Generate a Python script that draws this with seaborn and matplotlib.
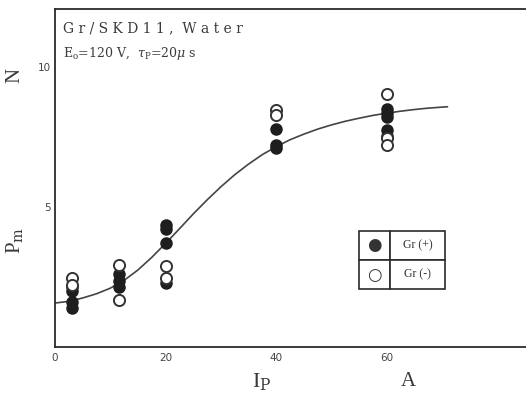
import matplotlib
matplotlib.use("Agg")
import matplotlib.pyplot as plt
import seaborn as sns
import pandas as pd

# ---- data ----
ip_pos = [3, 3, 3, 3, 11.5, 11.5, 11.5, 20, 20, 20, 20, 40, 40, 40, 60, 60, 60, 60, 60]
n_pos = [2.15, 2.0, 1.6, 1.4, 2.6, 2.35, 2.15, 4.35, 4.2, 3.7, 2.3, 7.8, 7.2, 7.1, 8.5, 8.35, 8.2, 7.75, 7.55]
ip_neg = [3, 3, 11.5, 11.5, 20, 20, 40, 40, 60, 60, 60]
n_neg = [2.45, 2.2, 2.93, 1.68, 2.9, 2.45, 8.45, 8.3, 9.05, 7.45, 7.2]
curve_x = [0, 2.5, 5, 7.5, 10, 12.5, 15, 17.5, 20, 22.5, 25, 27.5, 30, 32.5, 35, 37.5,
           40, 42.5, 45, 47.5, 50, 52.5, 55, 57.5, 60, 62.5, 65, 67.5, 71]
curve_y = [1.57, 1.63, 1.75, 1.9, 2.1, 2.38, 2.75, 3.2, 3.7, 4.22, 4.75, 5.25, 5.72, 6.15,
           6.53, 6.87, 7.15, 7.4, 7.6, 7.78, 7.93, 8.06, 8.17, 8.27, 8.35, 8.42, 8.48, 8.53, 8.58]
legend_labels = ["Gr (+)", "Gr (-)"]
title_lines = ["G r / S K D 1 1 ,  W a t e r", r"E$_\mathrm{o}$=120 V,  $\tau_\mathrm{P}$=20$\mu$ s"]

sns.set_theme(style="white")
plt.rcParams['font.family'] = ['Liberation Serif', 'DejaVu Serif']
plt.rcParams['mathtext.fontset'] = 'dejavuserif'

ink = "#2b2b2b"
fig = plt.figure(figsize=(5.26, 3.97), dpi=100)
ax = fig.add_axes([55 / 526, 50 / 397, 1 - 55 / 526, 338 / 397])

df_pos = pd.DataFrame({"Ip": ip_pos, "N": n_pos})
df_neg = pd.DataFrame({"Ip": ip_neg, "N": n_neg})
df_curve = pd.DataFrame({"Ip": curve_x, "N": curve_y})

sns.lineplot(data=df_curve, x="Ip", y="N", ax=ax, color="#444444", linewidth=1.2, zorder=2)
sns.scatterplot(data=df_pos, x="Ip", y="N", ax=ax, marker="o", s=64, color="#1e1e1e",
                edgecolor="#1e1e1e", linewidth=1.0, zorder=3)
sns.scatterplot(data=df_neg, x="Ip", y="N", ax=ax, marker="o", s=64, facecolor="white",
                edgecolor="#333333", linewidth=1.4, zorder=4)

ax.set_xlim(0, 85.2)
ax.set_ylim(0, 12.07)
ax.set_xticks([0, 10, 20, 30, 40, 50, 60, 70, 80])
ax.set_xticklabels(["0", "", "20", "", "40", "", "60", "", ""])
ax.set_yticks([5, 10])
ax.set_yticklabels(["5", "10"])
ax.tick_params(axis="both", direction="in", length=7, width=1.2, color=ink,
               labelsize=8, labelcolor="#444444", pad=4)
ax.tick_params(axis="y", pad=3)
ax.tick_params(axis="x", pad=4)
for lbl in ax.get_xticklabels():
    lbl.set_family(['DejaVu Sans'])
    lbl.set_fontsize(7.5)
for lbl in ax.get_yticklabels():
    lbl.set_family(['DejaVu Sans'])
    lbl.set_fontsize(7.5)
for side in ["left", "bottom", "top"]:
    ax.spines[side].set_color(ink)
    ax.spines[side].set_linewidth(1.3)
ax.spines["right"].set_visible(False)
ax.set_xlabel("")
ax.set_ylabel("")

ax.text(0.016, 0.965, title_lines[0], transform=ax.transAxes, fontsize=10,
        color="#3a3a3a", va="top", ha="left", family=['DejaVu Serif'])
ax.text(0.016, 0.893, title_lines[1], transform=ax.transAxes, fontsize=9,
        color="#3a3a3a", va="top", ha="left", family=['DejaVu Serif'])

# axis labels
fig.text(15 / 526, 1 - 75 / 397, "N", rotation=90, fontsize=15, color="#3a3a3a",
         ha="center", va="center")
fig.text(15 / 526, 1 - 240 / 397, r"P$_\mathrm{m}$", rotation=90, fontsize=15,
         color="#3a3a3a", ha="center", va="center")
fig.text(262 / 526, 1 - 382 / 397, r"I$_\mathrm{P}$", fontsize=16, color="#3a3a3a",
         ha="center", va="center")
fig.text(408 / 526, 1 - 381 / 397, "A", fontsize=15, color="#3a3a3a",
         ha="center", va="center")

# legend drawn as a small table
tbl = ax.table(cellText=[["\u25CF", legend_labels[0]], ["\u25CB", legend_labels[1]]],
               bbox=[(359 - 55) / 471, (347 - 289) / 338, 86 / 471, 58 / 338],
               colWidths=[31 / 86, 55 / 86], cellLoc="center")
tbl.auto_set_font_size(False)
for (r, c), cell in tbl.get_celld().items():
    cell.set_edgecolor(ink)
    cell.set_linewidth(1.2)
    cell.get_text().set_color("#333333")
    if c == 0:
        cell.get_text().set_fontsize(12)
        cell.get_text().set_family(['DejaVu Sans'])
    else:
        cell.get_text().set_fontsize(8.5)

fig.savefig("out.png", dpi=100, facecolor="white")
